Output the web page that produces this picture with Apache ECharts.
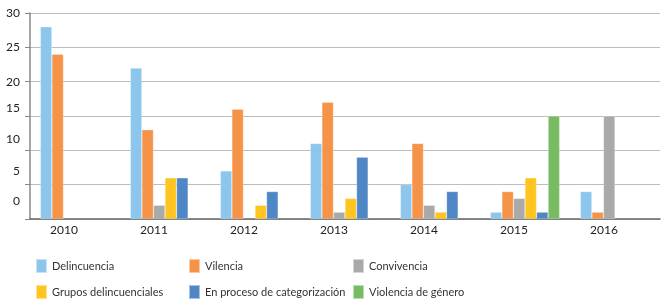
<!DOCTYPE html>
<html>
<head>
<meta charset="utf-8">
<script src="https://cdn.jsdelivr.net/npm/echarts@6/dist/echarts.min.js"></script>
<style>
  html, body { margin: 0; padding: 0; background: #fff; }
  #chart { width: 664px; height: 300px; }
</style>
</head>
<body>
<div id="chart"></div>
<script>
const years = ['2010', '2011', '2012', '2013', '2014', '2015', '2016'];
const seriesNames = ['Delincuencia', 'Vilencia', 'Convivencia', 'Grupos delincuenciales', 'En proceso de categorización', 'Violencia de género'];
const delincuencia = [28, 22, 7, 11, 5, 1, 4];
const vilencia = [24, 13, 16, 17, 11, 4, 1];
const convivencia = [null, 2, null, 1, 2, 3, 15];
const grupos = [null, 6, 2, 3, 1, 6, null];
const enProceso = [null, 6, 4, 9, 4, 1, null];
const violenciaGenero = [null, null, null, null, null, 15, null];
const yTicks = [0, 5, 10, 15, 20, 25, 30];

const colors = ['#8DC6EC', '#F59448', '#A9A9A9', '#FEC41F', '#4F86C6', '#78BB62'];
const dataList = [delincuencia, vilencia, convivencia, grupos, enProceso, violenciaGenero];

// the printed y labels drift upward towards the bottom of the axis
const labelLift = {0: 36, 5: 28, 10: 22, 15: 16, 20: 0, 25: 0, 30: 0};

const chart = echarts.init(document.getElementById('chart'));

const legendCol = (names, left) => ({
  orient: 'vertical',
  left: left,
  top: 258,
  padding: 0,
  itemWidth: 11,
  itemHeight: 14,
  itemGap: 10,
  icon: 'rect',
  textStyle: { color: '#333', fontSize: 11, fontFamily: 'Lato' },
  data: names
});

chart.setOption({
  animation: false,
  color: colors,
  textStyle: { fontFamily: 'Lato' },
  grid: { left: 30, right: 4, top: 13, height: 206 },
  legend: [
    legendCol([seriesNames[0], seriesNames[3]], 35),
    legendCol([seriesNames[1], seriesNames[4]], 188),
    legendCol([seriesNames[2], seriesNames[5]], 352)
  ],
  xAxis: {
    type: 'category',
    data: years,
    axisLine: { lineStyle: { color: '#666', width: 1.5 } },
    axisTick: { show: false },
    axisLabel: {
      color: '#222',
      fontSize: 12,
      margin: 5,
      padding: [0, 22, 0, 0]
    }
  },
  yAxis: {
    type: 'value',
    min: yTicks[0],
    max: yTicks[yTicks.length - 1],
    interval: 5,
    axisLine: { show: true, lineStyle: { color: '#888', width: 1.5 } },
    axisTick: { show: true, length: 5, lineStyle: { color: '#888' } },
    splitLine: { lineStyle: { color: '#bdbdbd', width: 1 } },
    axisLabel: {
      color: '#222',
      fontSize: 12,
      margin: 10,
      formatter: v => '{t' + v + '|' + v + '}',
      rich: Object.fromEntries(yTicks.map(v => ['t' + v, {
        fontSize: 12, color: '#222', fontFamily: 'Lato',
        padding: [0, 0, labelLift[v], 0]
      }]))
    }
  },
  series: seriesNames.map((name, i) => ({
    name: name,
    type: 'bar',
    data: dataList[i],
    barGap: '0%',
    barCategoryGap: '23%',
    itemStyle: { color: colors[i], borderColor: 'rgba(255,255,255,0.5)', borderWidth: 0.5 }
  }))
});
</script>
</body>
</html>
